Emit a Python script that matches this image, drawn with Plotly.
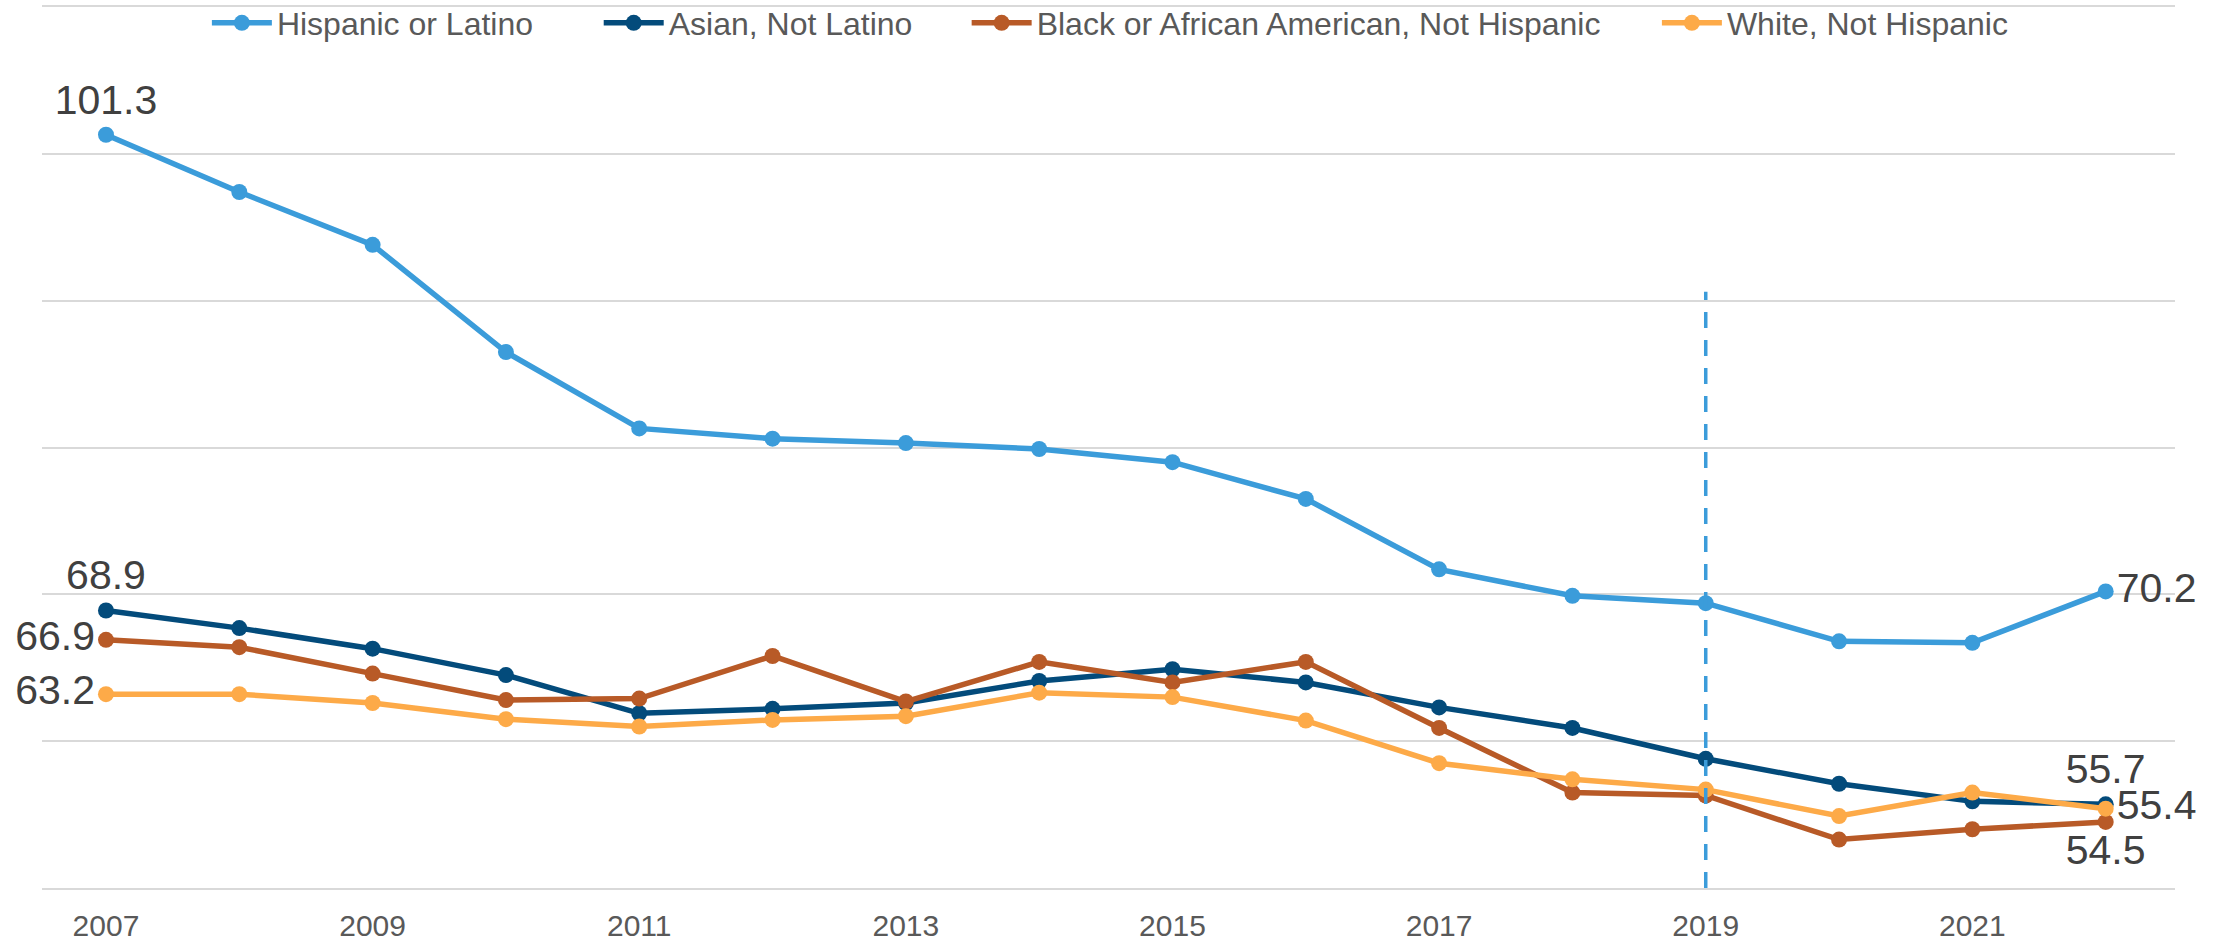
import plotly.graph_objects as go

years = list(range(2007, 2023))

hispanic = [101.3, 97.4, 93.8, 86.5, 81.3, 80.6, 80.3, 79.9, 79.0, 76.5, 71.7, 69.9, 69.4, 66.8, 66.7, 70.2]
asian = [68.9, 67.7, 66.3, 64.5, 61.9, 62.2, 62.6, 64.1, 64.9, 64.0, 62.3, 60.9, 58.8, 57.1, 55.9, 55.7]
black = [66.9, 66.4, 64.6, 62.8, 62.9, 65.8, 62.7, 65.4, 64.0, 65.4, 60.9, 56.5, 56.3, 53.3, 54.0, 54.5]
white = [63.2, 63.2, 62.6, 61.5, 61.0, 61.45, 61.7, 63.3, 63.0, 61.4, 58.5, 57.4, 56.7, 54.9, 56.5, 55.4]

series_names = ["Hispanic or Latino", "Asian, Not Latino",
                "Black or African American, Not Hispanic", "White, Not Hispanic"]
series_values = [hispanic, asian, black, white]
colors = ["#3B9CDA", "#034B7B", "#B85A27", "#FDAA48"]
first_pos = ["top center", "top center", "middle left", "middle left"]
last_pos = ["middle right", "top center", "bottom center", "middle right"]
legend_ids = ["legend", "legend2", "legend3", "legend4"]
legend_x = [0.0773, 0.2610, 0.4335, 0.7571]

marker_year = 2019

fig = go.Figure()
for name, vals, col, fp, lp, lid in zip(series_names, series_values, colors, first_pos, last_pos, legend_ids):
    n = len(vals)
    text = [""] * n
    pos = ["top center"] * n
    text[0] = f"{vals[0]:.1f}"
    text[-1] = f"{vals[-1]:.1f}"
    pos[0] = fp
    pos[-1] = lp
    fig.add_trace(go.Scatter(
        x=years, y=vals, name=name, mode="lines+markers+text",
        line=dict(color=col, width=5.5),
        marker=dict(color=col, size=16),
        text=text, textposition=pos,
        textfont=dict(size=41, color="#404040", family="Liberation Sans, Arial"),
        cliponaxis=False, legend=lid,
    ))

fig.add_shape(type="line", xref="x", yref="y", x0=marker_year, x1=marker_year,
              y0=50, y1=90.6, line=dict(color="#3B9CDA", width=3.5, dash="16px,12px"),
              layer="above")

legend_common = dict(orientation="h", xanchor="left", y=0.9818, yanchor="middle",
                     font=dict(size=32, color="#595959", family="Liberation Sans, Arial"),
                     bgcolor="rgba(0,0,0,0)", itemwidth=60)

fig.update_layout(
    width=2229, height=944,
    margin=dict(l=42, r=54, t=7, b=56, autoexpand=False),
    plot_bgcolor="white", paper_bgcolor="white",
    font=dict(family="Liberation Sans, Arial", color="#595959"),
    showlegend=True,
    legend=dict(x=legend_x[0], **legend_common),
    legend2=dict(x=legend_x[1], **legend_common),
    legend3=dict(x=legend_x[2], **legend_common),
    legend4=dict(x=legend_x[3], **legend_common),
    xaxis=dict(range=[2006.52, 2022.52], tickmode="linear", tick0=2007, dtick=2,
               showgrid=False, zeroline=False, showline=True, mirror=True,
               linecolor="#D9D9D9", linewidth=2, ticks="outside", ticklen=10,
               tickcolor="rgba(0,0,0,0)",
               tickfont=dict(size=30, color="#595959")),
    yaxis=dict(range=[50, 110], tickmode="linear", tick0=50, dtick=10,
               showgrid=True, gridcolor="#D9D9D9", gridwidth=2, zeroline=False,
               showticklabels=False, showline=False),
)

fig.write_html("out.html", config={"displayModeBar": False},
               post_script="document.body.style.margin='0';document.body.style.overflow='hidden';")
